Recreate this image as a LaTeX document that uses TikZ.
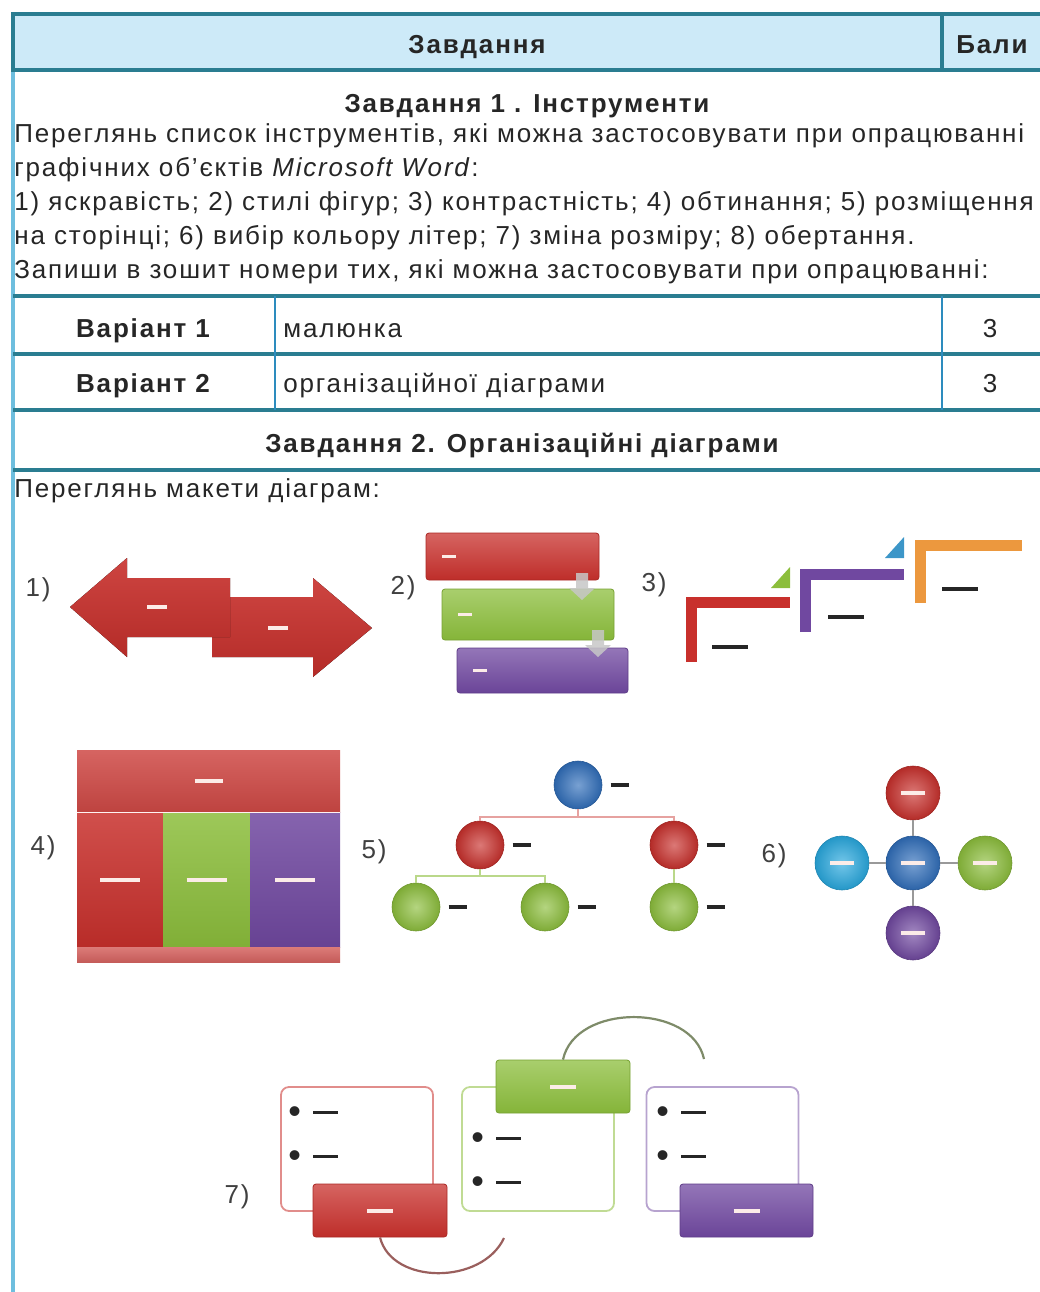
\documentclass[tikz,border=0pt]{standalone}
\usepackage{fontspec}
\setmainfont{Liberation Sans}[LetterSpace=7]
\usepackage{tikz}
\usetikzlibrary{positioning}

\definecolor{rulecol}{RGB}{42,125,145}
\definecolor{headfill}{RGB}{205,234,248}
\definecolor{sidecol}{RGB}{110,190,222}
\definecolor{divcol}{RGB}{45,140,190}
\definecolor{dred}{RGB}{200,48,44}
\definecolor{dgreen}{RGB}{140,190,60}
\definecolor{dpurple}{RGB}{112,72,160}
\definecolor{dorange}{RGB}{236,152,62}
\definecolor{dblue}{RGB}{48,110,186}
\definecolor{dcyan}{RGB}{40,168,222}
\definecolor{dteal}{RGB}{60,150,200}
\definecolor{paledash}{RGB}{252,236,232}

\newcommand{\dashbar}[2][1.6pt]{\rule{#2}{#1}}
\newcommand{\bulletdash}{{\fontsize{18}{18}\selectfont\textbullet}\hspace{6pt}\raisebox{4.5pt}{\dashbar[1.8pt]{12.5pt}}}

\begin{document}
\begin{tikzpicture}[x=0.5pt, y=-0.5pt,
  hrule/.style={draw=rulecol, line width=1.6pt},
  txt/.style={font=\fontsize{13}{17}\selectfont, text=black!85, inner sep=0pt},
  btxt/.style={txt, font=\fontsize{13}{17}\selectfont\bfseries},
  lbl/.style={inner sep=0pt, font=\fontsize{13}{14}\selectfont, text=black!75},
  gbox/.style={rectangle, rounded corners=1.5pt, inner sep=0pt,
    top color=#1!75!white, bottom color=#1!95!black, draw=#1!85!black, line width=0.4pt},
  blk/.style={rectangle, inner sep=0pt, text=paledash,
    top color=#1!85!white, bottom color=#1!92!black},
  ball/.style={circle, inner sep=0pt, minimum size=24pt, text=paledash,
    inner color=#1!65!white, outer color=#1!90!black, draw=#1!80!black, line width=0.3pt},
  wdash/.style={inner sep=0pt, text=paledash},
  kdash/.style={inner sep=0pt, text=black!85},
  olbox/.style={rectangle, rounded corners=4pt, draw=#1, line width=0.9pt,
    minimum width=76pt, minimum height=62pt, fill=white},
  garr/.style={fill=black!22, fill opacity=0.85}
]
  \useasboundingbox (0,0) rectangle (1040,1292);

  \fill[headfill] (13,14) rectangle (1040,70);
  \draw[sidecol, line width=1.6pt] (13,70) -- (13,1292);
  \draw[hrule] (1040,14) -- (13,14) -- (13,70) -- (1040,70);
  \draw[hrule] (942,14) -- (942,70);
  \draw[hrule] (13,296) -- (1040,296);
  \draw[hrule] (13,354) -- (1040,354);
  \draw[hrule] (13,410) -- (1040,410);
  \draw[hrule] (13,470) -- (1040,470);
  \draw[divcol, line width=1.2pt] (275,296) -- (275,410);
  \draw[divcol, line width=1.2pt] (942,296) -- (942,410);

  \node[btxt, anchor=base] (hdr)  at (477,53) {Завдання};
  \node[btxt, anchor=base] (hdrb) at (992,53) {Бали};
  \node[btxt, anchor=base] (t1)   at (527,112) {Завдання 1 . Інструменти};
  \node[txt, anchor=base west] (p1a) at (14,142)
    {Переглянь список інструментів, які можна застосовувати при опрацюванні};
  \node[txt, anchor=base west] (p1b) at (14,176)
    {графічних об'єктів \textit{Microsoft Word}:};
  \node[txt, anchor=base west] (p1c) at (14,210)
    {1) яскравість; 2) стилі фігур; 3) контрастність; 4) обтинання; 5) розміщення};
  \node[txt, anchor=base west] (p1d) at (14,244)
    {на сторінці; 6) вибір кольору літер; 7) зміна розміру; 8) обертання.};
  \node[txt, anchor=base west] (p1e) at (14,278)
    {Запиши в зошит номери тих, які можна застосовувати при опрацюванні:};

  \node[btxt, anchor=base]      (v1)  at (143,337) {Варіант 1};
  \node[txt,  anchor=base west] (v1t) at (283,337) {малюнка};
  \node[txt,  anchor=base]      (v1b) at (990,337) {3};
  \node[btxt, anchor=base]      (v2)  at (143,392) {Варіант 2};
  \node[txt,  anchor=base west] (v2t) at (283,392) {організаційної діаграми};
  \node[txt,  anchor=base]      (v2b) at (990,392) {3};
  \node[btxt, anchor=base] (t2) at (522,452) {Завдання 2. Організаційні діаграми};
  \node[txt, anchor=base west] (p2) at (14,497) {Переглянь макети діаграм:};

  \node[lbl] (n1) at (38,590) {1)};
  \node[lbl] (n2) at (403,588) {2)};
  \node[lbl] (n3) at (654,585) {3)};
  \node[lbl] (n4) at (43,848) {4)};
  \node[lbl] (n5) at (374,852) {5)};
  \node[lbl] (n6) at (774,856) {6)};
  \node[lbl] (n7) at (237,1197) {7)};

  \fill[top color=dred!90!white, bottom color=dred!90!black]
    (212,597) -- (313,597) -- (313,578) -- (372,628) -- (313,677) -- (313,657) -- (212,657) -- cycle;
  \fill[top color=dred!90!white, bottom color=dred!90!black]
    (70,607) -- (127,558) -- (127,578) -- (230,578) -- (230,637) -- (127,637) -- (127,657) -- cycle;
  \node[wdash] (d1a) at (157,607) {\dashbar[2pt]{10pt}};
  \node[wdash] (d1b) at (278,628) {\dashbar[2pt]{10pt}};

  \node[gbox=dred, minimum width=86.5pt, minimum height=23.5pt] (b2a) at (512.5,556.5) {};
  \node[wdash, right=8pt of b2a.west] (d2a) {\dashbar{7pt}};
  \node[gbox=dgreen, minimum width=86pt, minimum height=25.5pt] (b2b) at (528,614.5) {};
  \node[wdash, right=8pt of b2b.west] (d2b) {\dashbar{7pt}};
  \node[gbox=dpurple, minimum width=85.5pt, minimum height=22.5pt] (b2c) at (542.5,670.5) {};
  \node[wdash, right=8pt of b2c.west] (d2c) {\dashbar{7pt}};
  \fill[garr] (576,573) -- (588,573) -- (588,588) -- (595,588) -- (582,600) -- (569,588) -- (576,588) -- cycle;
  \fill[garr] (592,630) -- (604,630) -- (604,645) -- (611,645) -- (598,657) -- (585,645) -- (592,645) -- cycle;

  \draw[dred, line width=5.5pt] (691.5,662) -- (691.5,602.5) -- (790,602.5);
  \draw[dpurple, line width=5.5pt] (805.5,632) -- (805.5,574) -- (904,574);
  \draw[dorange, line width=5.5pt] (920.5,603) -- (920.5,545.5) -- (1022,545.5);
  \fill[dgreen] (771,588) -- (790,588) -- (790,567) -- cycle;
  \fill[dteal] (885,558) -- (904,558) -- (904,537) -- cycle;
  \node[kdash] (d3a) at (730,647) {\dashbar{18pt}};
  \node[kdash] (d3b) at (846,617) {\dashbar{18pt}};
  \node[kdash] (d3c) at (960,589) {\dashbar{18pt}};

  \node[blk=dred!88!white, minimum width=131.5pt, minimum height=31pt] (b4) at (208.5,781) {\dashbar[2pt]{14pt}};
  \node[blk=dred, minimum width=43pt, minimum height=67.5pt] (c4a) at (120,879.5) {\dashbar[2pt]{20pt}};
  \node[blk=dgreen, minimum width=43.5pt, minimum height=67.5pt] (c4b) at (206.5,879.5) {\dashbar[2pt]{20pt}};
  \node[blk=dpurple, minimum width=45pt, minimum height=67.5pt] (c4c) at (295,879.5) {\dashbar[2pt]{20pt}};
  \node[blk=dred!75!white, minimum width=131.5pt, minimum height=7.5pt] (f4) at (208.5,954.5) {};
  \draw[white!80!pink, line width=0.8pt] (b4.south west) -- (b4.south east);

  \coordinate (j5a) at (578,817);
  \coordinate (j5b) at (480,876);
  \node[ball=dblue]  (o5)  at (578,785) {};
  \node[ball=dred]   (r5a) at (480,845) {};
  \node[ball=dred]   (r5b) at (674,845) {};
  \node[ball=dgreen] (g5a) at (416,907) {};
  \node[ball=dgreen] (g5b) at (545,907) {};
  \node[ball=dgreen] (g5c) at (674,907) {};
  \draw[dred!45!white, line width=0.8pt] (o5) -- (j5a);
  \draw[dred!45!white, line width=0.8pt] (r5a) |- (j5a) -| (r5b);
  \draw[dgreen!60!white, line width=0.8pt] (r5a) -- (j5b);
  \draw[dgreen!60!white, line width=0.8pt] (g5a) |- (j5b) -| (g5b);
  \draw[dgreen!60!white, line width=0.8pt] (r5b) -- (g5c);
  \node[kdash, right=4pt of o5]  (d5a) {\dashbar{9pt}};
  \node[kdash, right=4pt of r5a] (d5b) {\dashbar{9pt}};
  \node[kdash, right=4pt of r5b] (d5c) {\dashbar{9pt}};
  \node[kdash, right=4pt of g5a] (d5d) {\dashbar{9pt}};
  \node[kdash, right=4pt of g5b] (d5e) {\dashbar{9pt}};
  \node[kdash, right=4pt of g5c] (d5f) {\dashbar{9pt}};

  \node[ball=dblue, minimum size=27pt]   (c6) at (913,863) {\dashbar[1.8pt]{12pt}};
  \node[ball=dred, minimum size=27pt]    (t6) at (913,793) {\dashbar[1.8pt]{12pt}};
  \node[ball=dpurple, minimum size=27pt] (b6) at (913,933) {\dashbar[1.8pt]{12pt}};
  \node[ball=dcyan, minimum size=27pt]   (l6) at (842,863) {\dashbar[1.8pt]{12pt}};
  \node[ball=dgreen, minimum size=27pt]  (r6) at (985,863) {\dashbar[1.8pt]{12pt}};
  \draw[black!40, line width=0.6pt] (c6) -- (t6);
  \draw[black!40, line width=0.6pt] (c6) -- (b6);
  \draw[black!40, line width=0.6pt] (c6) -- (l6);
  \draw[black!40, line width=0.6pt] (c6) -- (r6);

  \node[olbox=dred!55!white]    (l7) at (357,1149) {};
  \node[olbox=dgreen!55!white]  (m7) at (538,1149) {};
  \node[olbox=dpurple!50!white] (q7) at (722.5,1149) {};
  \node[kdash, anchor=west] (l7a) at (288,1115) {\bulletdash};
  \node[kdash, anchor=west] (l7b) at (288,1159) {\bulletdash};
  \node[kdash, anchor=west] (m7a) at (471,1141) {\bulletdash};
  \node[kdash, anchor=west] (m7b) at (471,1185) {\bulletdash};
  \node[kdash, anchor=west] (q7a) at (656,1115) {\bulletdash};
  \node[kdash, anchor=west] (q7b) at (656,1159) {\bulletdash};
  \node[gbox=dred, minimum width=67pt, minimum height=26.5pt, text=paledash] (r7) at (380,1210.5) {\dashbar[2pt]{13pt}};
  \node[gbox=dgreen, minimum width=67pt, minimum height=26.5pt, text=paledash] (g7) at (563,1086.5) {\dashbar[2pt]{13pt}};
  \node[gbox=dpurple, minimum width=66.5pt, minimum height=26.5pt, text=paledash] (p7) at (746.5,1210.5) {\dashbar[2pt]{13pt}};
  \coordinate (e7a) at (504,1238);
  \coordinate (e7b) at (704,1059);
  \draw[dred!55!black!70!white, line width=1.1pt] (r7.south) .. controls (392,1285) and (482,1285) .. (e7a);
  \draw[dgreen!40!black!65!white, line width=1.1pt] (g7.north) .. controls (575,1003) and (692,1003) .. (e7b);
\end{tikzpicture}
\end{document}
